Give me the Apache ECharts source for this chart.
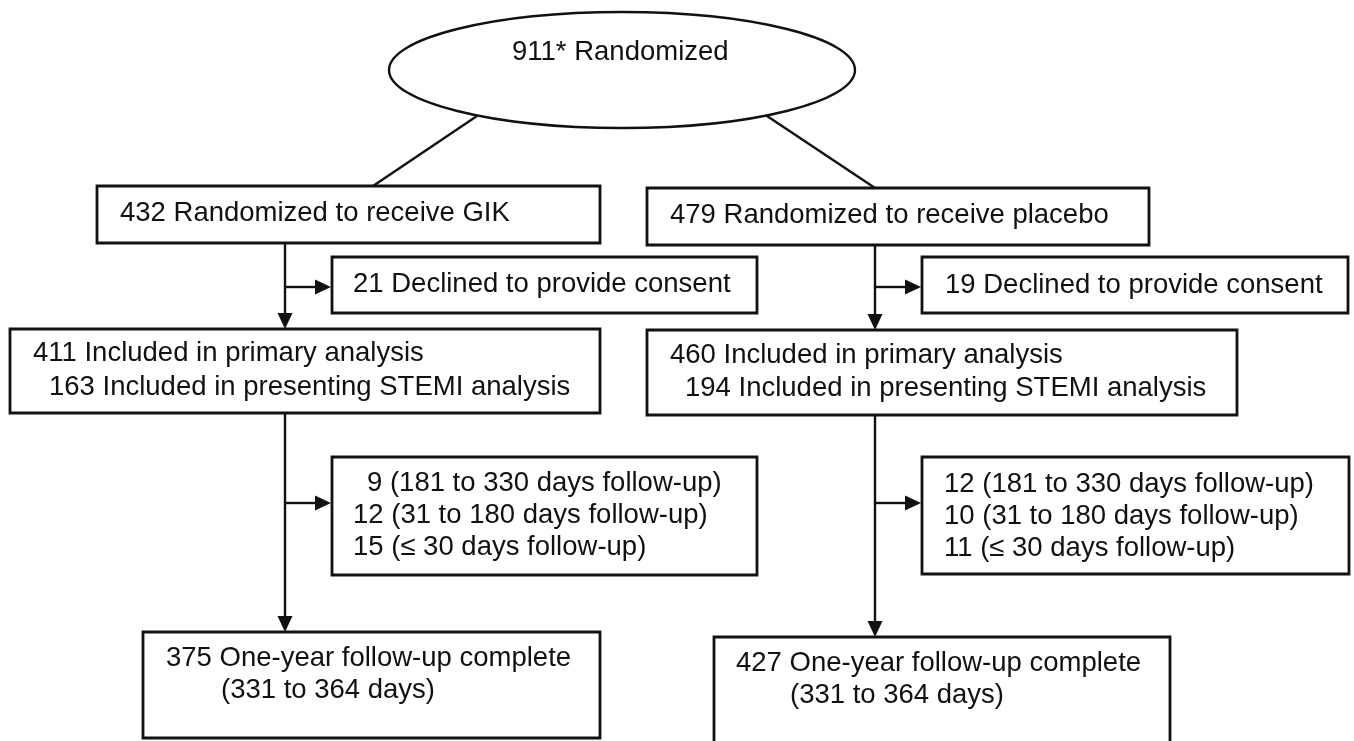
<!DOCTYPE html>
<html>
<head>
<meta charset="utf-8">
<script src="https://cdn.jsdelivr.net/npm/echarts@6/dist/echarts.min.js"></script>
<style>
html,body{margin:0;padding:0;background:#fff;}
#chart{width:1354px;height:741px;}
</style>
</head>
<body>
<div id="chart"></div>
<script>
// ---- DATA (counts) ----
const randomizedTotal = 911;
const armNames = ['GIK', 'placebo'];
const armRandomized = [432, 479];
const declinedConsent = [21, 19];
const primaryAnalysis = [411, 460];
const stemiAnalysis = [163, 194];
const lost181to330 = [9, 12];
const lost31to180 = [12, 10];
const lost30orLess = [15, 11];
const oneYearComplete = [375, 427];
const followUpWindows = ['181 to 330 days follow-up', '31 to 180 days follow-up', '\u2264 30 days follow-up'];
const completeWindow = '(331 to 364 days)';

// ---- TEXT built from the data ----
function armTexts(a) {
  return {
    rand: [armRandomized[a] + ' Randomized to receive ' + armNames[a]],
    declined: [declinedConsent[a] + ' Declined to provide consent'],
    primary: [primaryAnalysis[a] + ' Included in primary analysis',
              stemiAnalysis[a] + ' Included in presenting STEMI analysis'],
    lost: [lost181to330[a] + ' (' + followUpWindows[0] + ')',
           lost31to180[a] + ' (' + followUpWindows[1] + ')',
           lost30orLess[a] + ' (' + followUpWindows[2] + ')'],
    complete: [oneYearComplete[a] + ' One-year follow-up complete', completeWindow]
  };
}
const T = [armTexts(0), armTexts(1)];

// ---- LAYOUT (diagram units = pixels of the 1354x741 canvas) ----
const layoutNodes = [
  {shape: 'ellipse', box: [389, 12, 855, 128], text: [randomizedTotal + '* Randomized'], pos: [[512, 62]]},
  {box: [97, 186, 600, 243], text: T[0].rand, pos: [[120, 223]]},
  {box: [647, 188, 1149, 245], text: T[1].rand, pos: [[670, 225]]},
  {box: [332, 257, 757, 313], text: T[0].declined, pos: [[353, 294]]},
  {box: [922, 257, 1348, 313], text: T[1].declined, pos: [[945, 295]]},
  {box: [10, 329, 600, 413], text: T[0].primary, pos: [[33, 363], [49, 397]]},
  {box: [647, 330, 1237, 415], text: T[1].primary, pos: [[670, 365], [685, 398]]},
  {box: [332, 457, 757, 575], text: T[0].lost, pos: [[367, 493], [353, 525], [353, 557]]},
  {box: [922, 457, 1349, 574], text: T[1].lost, pos: [[944, 494], [944, 526], [944, 558]]},
  {box: [143, 632, 600, 738], text: T[0].complete, pos: [[166, 668], [221, 700]]},
  {box: [714, 637, 1170, 775], text: T[1].complete, pos: [[736, 673], [790, 705]]}
];
const layoutLinks = [
  {pts: [[477, 116], [373, 186]], arrow: false},
  {pts: [[767, 116], [875, 188]], arrow: false},
  {pts: [[285, 243], [285, 329]], arrow: true},
  {pts: [[285, 287], [331, 287]], arrow: true},
  {pts: [[285, 413], [285, 632]], arrow: true},
  {pts: [[285, 503], [331, 503]], arrow: true},
  {pts: [[875, 245], [875, 330]], arrow: true},
  {pts: [[875, 287], [921, 287]], arrow: true},
  {pts: [[875, 415], [875, 637]], arrow: true},
  {pts: [[875, 503], [921, 503]], arrow: true}
];

const INK = '#111111';
const LW = 2.4;
const FONT_SIZE = 27.5;
const FONT = FONT_SIZE + 'px "Liberation Sans", Arial, sans-serif';

const chart = echarts.init(document.getElementById('chart'), null, {renderer: 'canvas'});

function renderLink(params, api) {
  const L = layoutLinks[api.value(0)];
  const p = L.pts.map(q => api.coord(q));
  const children = [];
  let end = p[p.length - 1];
  const prev = p[p.length - 2];
  const dx = end[0] - prev[0], dy = end[1] - prev[1];
  const len = Math.sqrt(dx * dx + dy * dy);
  const ux = dx / len, uy = dy / len;
  const AL = 16, AW = 7.5;
  const linePts = p.slice();
  if (L.arrow) {
    const base = [end[0] - ux * AL, end[1] - uy * AL];
    linePts[linePts.length - 1] = [base[0] + ux * 2, base[1] + uy * 2];
    children.push({
      type: 'polygon',
      shape: {points: [end, [base[0] - uy * AW, base[1] + ux * AW], [base[0] + uy * AW, base[1] - ux * AW]]},
      style: {fill: INK, stroke: null}
    });
  }
  children.unshift({
    type: 'polyline',
    shape: {points: linePts},
    style: {stroke: INK, lineWidth: LW, fill: null}
  });
  return {type: 'group', children: children};
}

function renderNode(params, api) {
  const n = layoutNodes[api.value(0)];
  const a = api.coord([n.box[0], n.box[1]]);
  const b = api.coord([n.box[2], n.box[3]]);
  const children = [];
  if (n.shape === 'ellipse') {
    children.push({
      type: 'ellipse',
      shape: {cx: (a[0] + b[0]) / 2, cy: (a[1] + b[1]) / 2, rx: (b[0] - a[0]) / 2, ry: (b[1] - a[1]) / 2},
      style: {fill: '#ffffff', stroke: INK, lineWidth: LW}
    });
  } else {
    children.push({
      type: 'rect',
      shape: {x: a[0], y: a[1], width: b[0] - a[0], height: b[1] - a[1]},
      style: {fill: '#ffffff', stroke: INK, lineWidth: LW + 0.4}
    });
  }
  n.text.forEach((s, k) => {
    const t = api.coord(n.pos[k]);
    children.push({
      type: 'text',
      x: t[0],
      y: t[1] - FONT_SIZE * 0.345,
      style: {text: s, font: FONT, fill: INK, align: 'left', verticalAlign: 'middle'}
    });
  });
  return {type: 'group', children: children};
}

chart.setOption({
  backgroundColor: '#ffffff',
  animation: false,
  grid: {left: 0, right: 0, top: 0, bottom: 0},
  xAxis: {type: 'value', min: 0, max: 1354, show: false},
  yAxis: {type: 'value', min: 0, max: 741, inverse: true, show: false},
  series: [
    {
      type: 'custom',
      coordinateSystem: 'cartesian2d',
      clip: false,
      silent: true,
      renderItem: renderLink,
      encode: {x: 0, y: 1},
      data: layoutLinks.map((l, i) => [i, 0]),
      z: 1
    },
    {
      type: 'custom',
      coordinateSystem: 'cartesian2d',
      clip: false,
      silent: true,
      renderItem: renderNode,
      encode: {x: 0, y: 1},
      data: layoutNodes.map((n, i) => [i, 0]),
      z: 2
    }
  ]
});
</script>
</body>
</html>
